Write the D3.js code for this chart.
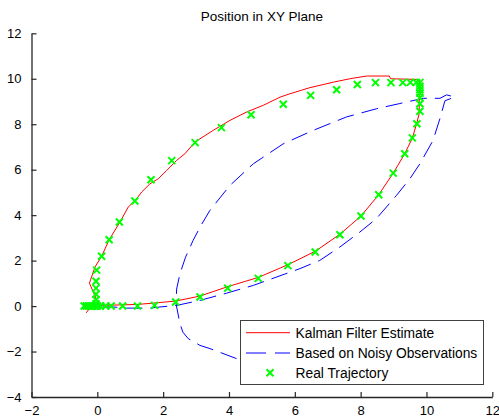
<!DOCTYPE html>
<html>
<head>
<meta charset="utf-8">
<script src="https://cdn.jsdelivr.net/npm/d3@7"></script>
<style>
  html, body { margin: 0; padding: 0; background: #ffffff; }
  svg { display: block; font-family: Arial, "Liberation Sans", sans-serif; }
</style>
</head>
<body>
<svg id="chart" width="499" height="417"></svg>
<script>
// Kalman filter estimate of the position
const kalmanX = [-0.34, -0.16, -0.04, -0.24, -0.07, 0.13, 0.36, 0.69, 0.94, 1.14, 1.35, 1.60, 1.85, 2.11, 2.41, 2.66, 2.97, 3.52, 4.03, 4.54, 5.04, 5.55, 5.85, 6.46, 7.17, 7.67, 8.18, 8.87, 8.91, 9.75, 9.80, 9.78, 9.78, 9.70, 9.57, 9.34, 8.99, 8.55, 8.01, 7.37, 6.62, 5.79, 4.89, 3.93, 3.12, 2.38, 1.70, 1.20, 0.39, -0.30];
const kalmanY = [-0.30, 0.03, 0.34, 1.01, 1.72, 2.19, 2.92, 3.70, 4.36, 4.62, 5.02, 5.38, 5.60, 5.97, 6.41, 6.70, 7.22, 7.73, 8.17, 8.54, 8.83, 9.19, 9.34, 9.61, 9.85, 10.00, 10.12, 10.12, 10.00, 9.97, 9.93, 9.27, 8.48, 8.02, 7.39, 6.70, 5.85, 4.90, 3.96, 3.16, 2.41, 1.82, 1.26, 0.84, 0.44, 0.22, 0.13, 0.07, 0.04, 0.02];

// Estimate based only on the noisy observations
const noisyX = [4.23, 3.42, 3.12, 2.76, 2.60, 2.51, 2.39, 2.41, 2.51, 2.68, 2.91, 3.15, 3.42, 4.03, 4.74, 5.65, 6.56, 7.57, 8.48, 9.19, 9.90, 10.41, 10.61, 10.86, 10.56, 10.41, 10.20, 9.80, 9.50, 9.09, 8.48, 7.98, 7.37, 6.76, 6.16, 5.45, 4.74, 3.93, 3.12, 2.41, 1.90, 1.60, 0.89, 0.49, 0.17];
const noisyY = [-2.31, -1.87, -1.73, -1.43, -1.15, -0.77, 0.11, 0.75, 1.42, 2.15, 2.89, 3.55, 4.21, 5.31, 6.26, 7.14, 7.73, 8.32, 8.68, 8.91, 9.14, 9.14, 9.29, 9.20, 9.03, 8.25, 7.29, 6.26, 5.61, 4.87, 3.85, 3.26, 2.60, 2.01, 1.65, 1.28, 0.91, 0.57, 0.25, 0.03, -0.04, -0.09, -0.09, -0.04, -0.04];

// Real trajectory samples
const trueX = [-0.40, -0.33, -0.27, -0.20, -0.14, -0.08, -0.03, 0.00, 0.10, 0.25, 0.42, 0.77, 1.22, 1.74, 2.38, 3.12, 3.96, 4.89, 5.79, 6.62, 7.37, 8.01, 8.55, 8.99, 9.34, 9.57, 9.71, 9.80, 9.80, 9.80, 9.80, 9.80, 9.80, 9.80,
  9.69, 9.51, 9.28, 8.92, 8.45, 7.90, 7.27, 6.48, 5.65, 4.67, 3.77, 2.97, 2.26, 1.63, 1.14, 0.67, 0.36, 0.13, -0.02, -0.04, -0.04, -0.04, -0.04, -0.04];
const trueY = [0, 0, 0, 0, 0, 0, 0, 0, 0, 0, 0, 0, 0, 0.03, 0.18, 0.40, 0.79, 1.22, 1.78, 2.38, 3.14, 3.96, 4.90, 5.85, 6.70, 7.40, 8.02, 8.57, 8.90, 9.17, 9.36, 9.52, 9.67, 9.84,
  9.84, 9.84, 9.83, 9.83, 9.83, 9.75, 9.52, 9.27, 8.88, 8.42, 7.85, 7.19, 6.40, 5.56, 4.62, 3.70, 2.92, 2.19, 1.58, 1.09, 0.79, 0.52, 0.28, 0.10];

const xTicks = [-2, 0, 2, 4, 6, 8, 10, 12];
const yTicks = [-4, -2, 0, 2, 4, 6, 8, 10, 12];
const titleText = "Position in XY Plane";
const legendLabels = ["Kalman Filter Estimate", "Based on Noisy Observations", "Real Trajectory"];

const svg = d3.select("#chart");
const plotLeft = 31.5, plotRight = 492.3, plotTop = 33.3, plotBottom = 397;

const x = d3.scaleLinear().domain([-2, 12]).range([plotLeft, plotRight]);
const y = d3.scaleLinear().domain([-4, 12]).range([plotBottom, plotTop]);

const axisColor = "#262626";
const fontSize = 13;

// Title
svg.append("text")
  .attr("x", (plotLeft + plotRight) / 2)
  .attr("y", 21)
  .attr("text-anchor", "middle")
  .attr("font-size", 13.5)
  .attr("fill", "#000")
  .text(titleText);

// Axes with inward ticks
const xAxis = d3.axisBottom(x).tickValues(xTicks).tickSizeInner(-5).tickSizeOuter(0).tickPadding(9);
const yAxis = d3.axisLeft(y).tickValues(yTicks).tickSizeInner(-5).tickSizeOuter(0).tickPadding(10);

const gx = svg.append("g").attr("transform", `translate(0,${plotBottom})`).call(xAxis);
const gy = svg.append("g").attr("transform", `translate(${plotLeft},0)`).call(yAxis);
[gx, gy].forEach(g => {
  g.select(".domain").attr("stroke", axisColor).attr("stroke-width", 1.3);
  g.selectAll(".tick line").attr("stroke", axisColor).attr("stroke-width", 1.2);
  g.selectAll(".tick text").attr("fill", "#000").attr("font-size", fontSize)
    .attr("font-family", "Arial, 'Liberation Sans', sans-serif");
});

// Lines
const line = d3.line().x(d => x(d[0])).y(d => y(d[1]));
const kalman = kalmanX.map((v, i) => [v, kalmanY[i]]);
const noisy = noisyX.map((v, i) => [v, noisyY[i]]);

svg.append("path")
  .attr("d", line.curve(d3.curveLinear)(noisy))
  .attr("fill", "none")
  .attr("stroke", "#0000ff")
  .attr("stroke-width", 1)
  .attr("stroke-dasharray", "17,8");

svg.append("path")
  .attr("d", line.curve(d3.curveLinear)(kalman))
  .attr("fill", "none")
  .attr("stroke", "#ff0000")
  .attr("stroke-width", 1);

// Cross markers for the real trajectory
const cross = "M-3.5,-3.5L3.5,3.5M-3.5,3.5L3.5,-3.5";
svg.append("g").selectAll("path")
  .data(trueX.map((v, i) => [v, trueY[i]]))
  .join("path")
  .attr("transform", d => `translate(${x(d[0])},${y(d[1])})`)
  .attr("d", cross)
  .attr("fill", "none")
  .attr("stroke", "#00ff00")
  .attr("stroke-width", 2);

// Legend
const lg = svg.append("g");
lg.append("rect")
  .attr("x", 240.5).attr("y", 320.5)
  .attr("width", 243).attr("height", 64)
  .attr("fill", "#fff")
  .attr("stroke", "#404040")
  .attr("stroke-width", 1);

const rowY = [332.7, 353, 372.7];
const textX = 295.5;
lg.append("line").attr("x1", 246).attr("x2", 290).attr("y1", rowY[0]).attr("y2", rowY[0])
  .attr("stroke", "#ff0000").attr("stroke-width", 1);
lg.append("line").attr("x1", 246).attr("x2", 290).attr("y1", rowY[1]).attr("y2", rowY[1])
  .attr("stroke", "#0000ff").attr("stroke-width", 1).attr("stroke-dasharray", "20,9");
lg.append("path").attr("transform", `translate(270,${rowY[2]})`).attr("d", cross)
  .attr("fill", "none").attr("stroke", "#00ff00").attr("stroke-width", 2);

legendLabels.forEach((t, i) => {
  lg.append("text")
    .attr("x", textX).attr("y", rowY[i])
    .attr("dy", "0.35em")
    .attr("font-size", 13.8)
    .attr("fill", "#000")
    .text(t);
});
</script>
</body>
</html>
